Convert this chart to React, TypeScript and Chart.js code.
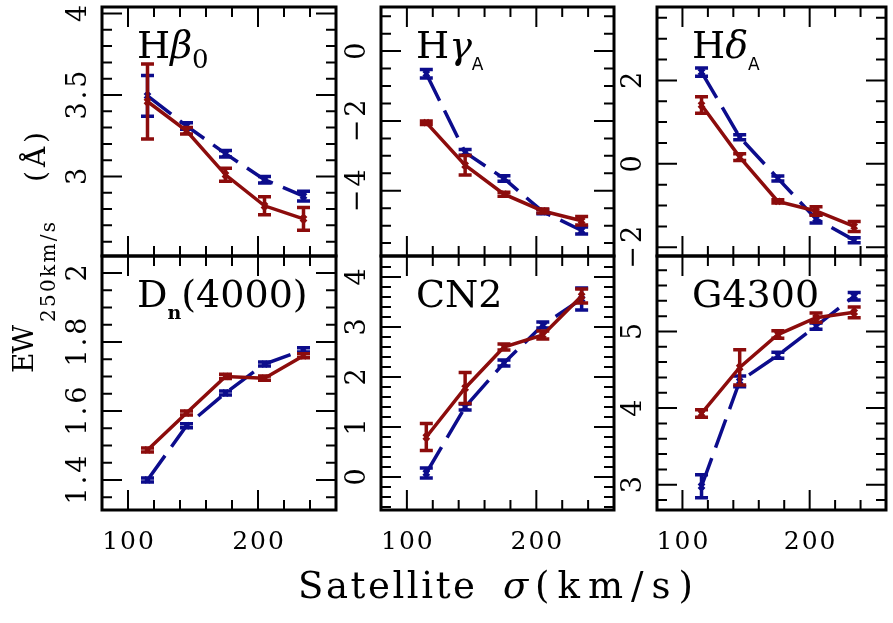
import React, { useEffect, useRef } from "react";
import { Chart, registerables } from "chart.js";
Chart.register(...registerables);

const W = 893;
const H = 623;
const BLUE = "#0c0c8c";
const RED = "#8c0c0c";

// satellite velocity dispersion bins (km/s)
const sigma = [115, 145, 175, 205, 235];

// H beta_0
const hb0Blue = [3.495, 3.31, 3.14, 2.98, 2.88];
const hb0BlueErr = [0.125, 0.02, 0.02, 0.02, 0.03];
const hb0Red = [3.46, 3.28, 3.01, 2.82, 2.74];
const hb0RedErr = [0.23, 0.02, 0.04, 0.055, 0.07];

// H gamma_A
const hgBlue = [-0.65, -2.9, -3.65, -4.6, -5.14];
const hgBlueErr = [0.12, 0.08, 0.08, 0.06, 0.1];
const hgRed = [-2.05, -3.27, -4.1, -4.58, -4.86];
const hgRedErr = [0.05, 0.28, 0.06, 0.06, 0.12];

// H delta_A
const hdBlue = [2.2, 0.64, -0.35, -1.32, -1.83];
const hdBlueErr = [0.1, 0.06, 0.06, 0.1, 0.06];
const hdRed = [1.41, 0.16, -0.9, -1.13, -1.5];
const hdRedErr = [0.2, 0.08, 0.04, 0.1, 0.12];

// Dn(4000)
const dnBlue = [1.4, 1.557, 1.652, 1.736, 1.777];
const dnBlueErr = [0.006, 0.006, 0.006, 0.006, 0.006];
const dnRed = [1.487, 1.594, 1.7, 1.695, 1.76];
const dnRedErr = [0.006, 0.006, 0.006, 0.006, 0.006];

// CN2
const cnBlue = [0.08, 1.4, 2.28, 3.04, 3.56];
const cnBlueErr = [0.1, 0.06, 0.06, 0.06, 0.22];
const cnRed = [0.8, 1.78, 2.6, 2.84, 3.62];
const cnRedErr = [0.27, 0.31, 0.06, 0.08, 0.14];

// G4300
const gBlue = [2.98, 4.35, 4.69, 5.07, 5.46];
const gBlueErr = [0.15, 0.07, 0.04, 0.04, 0.05];
const gRed = [3.93, 4.53, 4.96, 5.18, 5.25];
const gRedErr = [0.05, 0.23, 0.05, 0.06, 0.07];

const xMin = 80;
const xMax = 260;
const xMajor = 100;
const xMinor = 20;
const xTickLabels = [100, 200];

type Seg = { t: string; f: string; dy?: number };
type Panel = {
  col: number;
  row: number;
  yMin: number;
  yMax: number;
  major: number;
  minor: number;
  blue: number[];
  blueErr: number[];
  red: number[];
  redErr: number[];
  label: Seg[];
};

const SERIF = '"DejaVu Serif", "Liberation Serif", serif';
const BIG = `38px ${SERIF}`;
const BIGI = `italic 38px ${SERIF}`;

const panels: Panel[] = [
  {
    col: 0, row: 0, yMin: 2.512, yMax: 4.04, major: 0.5, minor: 0.1,
    blue: hb0Blue, blueErr: hb0BlueErr, red: hb0Red, redErr: hb0RedErr,
    label: [{ t: "H", f: BIG }, { t: "β", f: BIGI }, { t: "0", f: `26px ${SERIF}`, dy: 10 }],
  },
  {
    col: 1, row: 0, yMin: -5.87, yMax: 1.264, major: 2, minor: 0.5,
    blue: hgBlue, blueErr: hgBlueErr, red: hgRed, redErr: hgRedErr,
    label: [{ t: "H", f: BIG }, { t: "γ", f: BIGI }, { t: "A", f: `17px "DejaVu Sans"`, dy: 12 }],
  },
  {
    col: 2, row: 0, yMin: -2.21, yMax: 3.76, major: 2, minor: 0.5,
    blue: hdBlue, blueErr: hdBlueErr, red: hdRed, redErr: hdRedErr,
    label: [{ t: "H", f: BIG }, { t: "δ", f: BIGI }, { t: "A", f: `17px "DejaVu Sans"`, dy: 12 }],
  },
  {
    col: 0, row: 1, yMin: 1.313, yMax: 2.049, major: 0.2, minor: 0.05,
    blue: dnBlue, blueErr: dnBlueErr, red: dnRed, redErr: dnRedErr,
    label: [{ t: "D", f: BIG }, { t: "n", f: `bold 19px ${SERIF}`, dy: 12 }, { t: "(4000)", f: BIG }],
  },
  {
    col: 1, row: 1, yMin: -0.66, yMax: 4.42, major: 1, minor: 0.2,
    blue: cnBlue, blueErr: cnBlueErr, red: cnRed, redErr: cnRedErr,
    label: [{ t: "CN2", f: BIG }],
  },
  {
    col: 2, row: 1, yMin: 2.67, yMax: 5.985, major: 1, minor: 0.2,
    blue: gBlue, blueErr: gBlueErr, red: gRed, redErr: gRedErr,
    label: [{ t: "G4300", f: BIG }],
  },
];

const COLS = [
  [102, 336],
  [381, 614],
  [657, 890],
];
const ROWS = [
  [2, 256],
  [256, 510],
];

function fillFit(ctx: CanvasRenderingContext2D, text: string, x: number, y: number, width: number) {
  (ctx as any).letterSpacing = "0px";
  const w = ctx.measureText(text).width;
  const n = [...text].length;
  const ls = n > 1 ? (width - w) / (n - 1) : 0;
  (ctx as any).letterSpacing = `${ls}px`;
  ctx.fillText(text, x, y);
  (ctx as any).letterSpacing = "0px";
}

function tickValues(min: number, max: number, step: number) {
  const out: number[] = [];
  const i0 = Math.ceil(min / step - 1e-9);
  const i1 = Math.floor(max / step + 1e-9);
  for (let i = i0; i <= i1; i++) out.push(+(i * step).toFixed(6));
  return out;
}

function isMajor(v: number, major: number) {
  const r = v / major;
  return Math.abs(r - Math.round(r)) < 1e-6;
}

function fmt(v: number) {
  const s = String(+v.toFixed(3));
  return s.replace("-", "−");
}

function makeChart(canvas: HTMLCanvasElement, p: Panel, first: boolean) {
  const [l, r] = COLS[p.col];
  const [t, b] = ROWS[p.row];
  const errs = [p.redErr, p.blueErr];
  const vals = [p.red, p.blue];
  const cols = [RED, BLUE];

  const plugin = {
    id: "panelDeco",
    afterDatasetDraw(chart: any, args: any) {
      const ctx: CanvasRenderingContext2D = chart.ctx;
      const xs = chart.scales.x;
      const ys = chart.scales.y;
      const di = args.index;
      ctx.save();
      ctx.strokeStyle = cols[di];
      ctx.lineWidth = 3.5;
      ctx.setLineDash([]);
      sigma.forEach((s, i) => {
        const x = xs.getPixelForValue(s);
        const y1 = ys.getPixelForValue(vals[di][i] - errs[di][i]);
        const y2 = ys.getPixelForValue(vals[di][i] + errs[di][i]);
        ctx.beginPath();
        ctx.moveTo(x, y1);
        ctx.lineTo(x, y2);
        ctx.moveTo(x - 6.5, y1);
        ctx.lineTo(x + 6.5, y1);
        ctx.moveTo(x - 6.5, y2);
        ctx.lineTo(x + 6.5, y2);
        ctx.stroke();
      });
      ctx.restore();
    },
    afterDraw(chart: any) {
      const ctx: CanvasRenderingContext2D = chart.ctx;
      const xs = chart.scales.x;
      const ys = chart.scales.y;
      const a = chart.chartArea;
      ctx.save();
      ctx.strokeStyle = "#000";
      ctx.fillStyle = "#000";
      // ticks
      ctx.lineWidth = 2;
      ctx.beginPath();
      tickValues(xMin, xMax, xMinor).forEach((v) => {
        const x = xs.getPixelForValue(v);
        if (x <= a.left + 1 || x >= a.right - 1) return;
        const len = isMajor(v, xMajor) ? 20 : 10;
        ctx.moveTo(x, a.top);
        ctx.lineTo(x, a.top + len);
        ctx.moveTo(x, a.bottom);
        ctx.lineTo(x, a.bottom - len);
      });
      tickValues(p.yMin, p.yMax, p.minor).forEach((v) => {
        const y = ys.getPixelForValue(v);
        if (y <= a.top + 1 || y >= a.bottom - 1) return;
        const len = isMajor(v, p.major) ? 20 : 10;
        ctx.moveTo(a.left, y);
        ctx.lineTo(a.left + len, y);
        ctx.moveTo(a.right, y);
        ctx.lineTo(a.right - len, y);
      });
      ctx.stroke();
      // border
      ctx.lineWidth = 3;
      ctx.strokeRect(a.left, a.top, a.right - a.left, a.bottom - a.top);

      // y tick labels (rotated)
      ctx.font = `27px ${SERIF}`;
      ctx.textAlign = "center";
      ctx.textBaseline = "alphabetic";
      (ctx as any).letterSpacing = "3px";
      tickValues(p.yMin, p.yMax, p.major).forEach((v) => {
        const y = ys.getPixelForValue(v);
        ctx.save();
        ctx.translate(a.left - 16, y);
        ctx.rotate(-Math.PI / 2);
        ctx.fillText(fmt(v), 1.5, 0);
        ctx.restore();
      });
      // x tick labels
      if (p.row === 1) {
        ctx.font = `25px ${SERIF}`;
        (ctx as any).letterSpacing = "2px";
        xTickLabels.forEach((v) => {
          ctx.fillText(String(v), xs.getPixelForValue(v) + 1, 549);
        });
      }
      (ctx as any).letterSpacing = "0px";

      // panel label
      ctx.textAlign = "left";
      let x = a.left + 35;
      const base = a.top + 51;
      p.label.forEach((s) => {
        ctx.font = s.f;
        ctx.fillText(s.t, x, base + (s.dy || 0));
        x += ctx.measureText(s.t).width;
      });

      if (first) {
        // y axis title
        ctx.save();
        ctx.translate(33, 373);
        ctx.rotate(-Math.PI / 2);
        ctx.textAlign = "left";
        ctx.font = `28px ${SERIF}`;
        fillFit(ctx, "EW", 0, 0, 48);
        ctx.font = `20px ${SERIF}`;
        fillFit(ctx, "250km/s", 51, 22, 100);
        ctx.font = `28px ${SERIF}`;
        fillFit(ctx, "(Å)", 191, 12, 50);
        ctx.restore();
        // x axis title
        ctx.textAlign = "left";
        ctx.font = `37px ${SERIF}`;
        fillFit(ctx, "Satellite", 298, 598, 177);
        ctx.font = `italic 37px ${SERIF}`;
        ctx.fillText("σ", 503, 598);
        ctx.font = `37px ${SERIF}`;
        fillFit(ctx, "(km/s)", 535, 598, 158);
      }
      ctx.restore();
    },
  };

  const ds = (vals2: number[], color: string, dash: number[]) => ({
    data: sigma.map((x, i) => ({ x, y: vals2[i] })),
    borderColor: color,
    backgroundColor: color,
    borderWidth: 3.5,
    borderDash: dash,
    pointStyle: "crossRot",
    pointRadius: 4,
    pointBorderWidth: 3,
    pointBorderColor: color,
    pointBackgroundColor: color,
    fill: false,
    tension: 0,
  });

  return new Chart(canvas, {
    type: "line",
    data: {
      datasets: [ds(p.red, RED, []), ds(p.blue, BLUE, [30, 11])] as any,
    },
    options: {
      responsive: false,
      animation: false,
      events: [],
      layout: { padding: { left: l, top: t, right: W - r, bottom: H - b } },
      plugins: {
        legend: { display: false },
        tooltip: { enabled: false },
        title: { display: false },
      },
      scales: {
        x: { type: "linear", min: xMin, max: xMax, display: false },
        y: { type: "linear", min: p.yMin, max: p.yMax, display: false },
      },
    } as any,
    plugins: [plugin as any],
  });
}

export default function App() {
  const refs = useRef<(HTMLCanvasElement | null)[]>([]);
  useEffect(() => {
    const charts = panels.map((p, i) => makeChart(refs.current[i] as HTMLCanvasElement, p, i === 0));
    return () => charts.forEach((c) => c.destroy());
  }, []);
  return (
    <div style={{ position: "fixed", left: 0, top: 0, width: W, height: H, background: "#fff" }}>
      {panels.map((_, i) => (
        <canvas
          key={i}
          ref={(el) => {
            refs.current[i] = el;
          }}
          width={W}
          height={H}
          style={{ position: "absolute", left: 0, top: 0, width: W, height: H }}
        />
      ))}
    </div>
  );
}
